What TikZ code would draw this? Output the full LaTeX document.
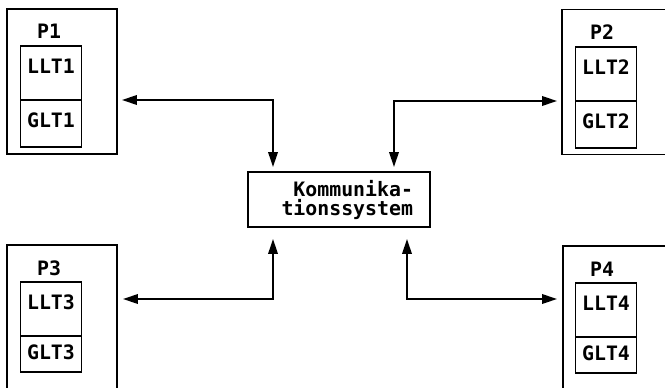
\documentclass[tikz,border=0pt]{standalone}
\usepackage{fontspec}
\newfontfamily\plotfont{DejaVu Sans Mono}
\usetikzlibrary{positioning,arrows.meta}

\tikzset{
  rahmen/.style={draw, line width=1.1pt, minimum width=2.2cm, minimum height=2.9cm, outer sep=0pt},
  zelle/.style={draw, line width=1.1pt, minimum width=1.22cm, outer sep=0pt, inner sep=0pt},
  lltzelle/.style={zelle, minimum height=1.08cm, text depth=8pt},
  gltzelle/.style={zelle, minimum height=0.94cm, text depth=4pt},
  titel/.style={inner sep=0pt},
  kbox/.style={draw, line width=1.1pt, minimum width=3.64cm, minimum height=1.1cm, outer sep=0pt,
    text width=2.96cm, inner xsep=0.34cm, align=right},
  pfeil/.style={{Triangle[length=8.5pt,width=5.4pt]}-{Triangle[length=8.5pt,width=5.4pt]}, line width=1.1pt}
}

\begin{document}
\begin{tikzpicture}[x=0.02cm, y=-0.02cm, font=\plotfont\bfseries\fontsize{11.3}{10.8}\selectfont]
  %%%%% START %%%%%
  \clip (0,0) rectangle (665,388);

  % Prozessor P1
  \node[rahmen] (p1) at (62,81.5) {};
  \node[titel] (p1t) at (49,31) {P1};
  \node[lltzelle] (llt1) at (51,73) {LLT1};
  \node[gltzelle, below=0pt of llt1] (glt1) {GLT1};

  % Prozessor P2
  \node[rahmen] (p2) at (617,82) {};
  \node[titel] (p2t) at (602,32) {P2};
  \node[lltzelle] (llt2) at (606,74) {LLT2};
  \node[gltzelle, below=0pt of llt2] (glt2) {GLT2};

  % Prozessor P3
  \node[rahmen, minimum height=3.1cm] (p3) at (62,322.5) {};
  \node[titel] (p3t) at (49,268) {P3};
  \node[lltzelle] (llt3) at (51,309) {LLT3};
  \node[gltzelle, minimum height=0.72cm, text depth=2pt, below=0pt of llt3] (glt3) {GLT3};

  % Prozessor P4
  \node[rahmen, minimum height=3.08cm] (p4) at (618,323) {};
  \node[titel] (p4t) at (602,269) {P4};
  \node[lltzelle] (llt4) at (606,310) {LLT4};
  \node[gltzelle, minimum height=0.72cm, text depth=2pt, below=0pt of llt4] (glt4) {GLT4};

  % Kommunikationssystem
  \node[kbox] (ks) at (339,199.5) {Kommunika-\\tionssystem};

  % Verbindungen
  \draw[pfeil, shorten <=0.1cm, shorten >=0.1cm] (p1.east |- glt1.north) -| ([xshift=0.5cm]ks.north west);
  \draw[pfeil, shorten <=0.1cm, shorten >=0.1cm] (p2.west |- glt2.north) -| ([xshift=-0.72cm]ks.north east);
  \draw[pfeil, shorten <=0.12cm, shorten >=0.24cm] ([yshift=-1.08cm]p3.north east) -| ([xshift=0.5cm]ks.south west);
  \draw[pfeil, shorten <=0.12cm, shorten >=0.24cm] ([yshift=-1.06cm]p4.north west) -| ([xshift=-0.46cm]ks.south east);
  %%%%% END %%%%%
\end{tikzpicture}
\end{document}
